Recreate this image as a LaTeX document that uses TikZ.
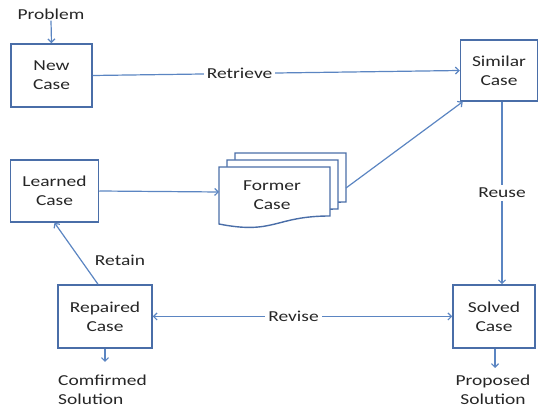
\documentclass[tikz,border=0pt]{standalone}
\usepackage{fontspec}
\setmainfont{Carlito}[FakeStretch=1.28]
\usetikzlibrary{arrows.meta}
\definecolor{lineblue}{HTML}{5B85C2}
\definecolor{boxblue}{HTML}{4A6EA8}
\definecolor{txt}{HTML}{262626}
\begin{document}
\begin{tikzpicture}[x=1pt,y=-1pt,
  every node/.style={text=txt, font=\fontsize{15.2}{19}\selectfont, align=center, inner sep=1pt},
  box/.style={draw=boxblue, line width=1.5pt, fill=white},
  conn/.style={draw=lineblue, line width=1.2pt, -{Straight Barb[length=3.5pt,width=7pt]}},
  lbl/.style={fill=white, inner sep=3pt},
  doc/.style={draw=boxblue, line width=1.4pt, fill=white}]
\useasboundingbox (0,0) rectangle (539,411);

% boxes
\node[box, minimum width=81pt, minimum height=63pt] (new) at (51.5,75.5) {New\\Case};
\node[box, minimum width=77pt, minimum height=61pt] (sim) at (499,70.5) {Similar\\Case};
\node[box, minimum width=88pt, minimum height=62pt] (learned) at (54.5,191) {Learned\\Case};
\node[box, minimum width=94pt, minimum height=63pt] (rep) at (105,316.5) {Repaired\\Case};
\node[box, minimum width=82pt, minimum height=63pt] (solved) at (494,316.5) {Solved\\Case};

% former case documents
\foreach \dx/\dy in {16/-14, 8/-7, 0/0}{
  \begin{scope}[shift={(\dx,\dy)}]
    \draw[doc] (219,167) -- (330,167) -- (330,216)
      .. controls (274.5,216) and (274.5,235) .. (219,224) -- cycle;
  \end{scope}
}
\node (former) at (272,195) {Former\\Case};
\coordinate (fl) at (219,192);
\coordinate (fr) at (346,188);

% texts
\node (problem) at (51,14) {Problem};
\node[align=left, anchor=west] (conf) at (57,390) {Comfirmed\\Solution};
\coordinate (confin) at (105,362);
\node (prop) at (493,390) {Proposed\\Solution};
\coordinate (propin) at (495,368);

% connectors
\draw[conn] (problem.south) -- (new.north);
\draw[conn] (new.east) -- node[lbl, pos=0.4] {Retrieve} (sim.west);
\draw[conn] (learned.east) -- (fl);
\draw[conn] (fr) -- ([xshift=3pt]sim.south west);
\draw[conn] ([xshift=3pt]sim.south) -- node[lbl] {Reuse} ([xshift=3pt]sim.south |- solved.north);
\draw[conn, {Straight Barb[length=3.5pt,width=7pt]}-{Straight Barb[length=3.5pt,width=7pt]}] (rep.east) -- node[lbl, pos=0.47] {Revise} (solved.west);
\draw[conn] ([xshift=-7pt]rep.north) -- (learned.south);
\node (retain) at (120,260) {Retain};
\draw[conn] (rep.south) -- (confin);
\draw[conn] ([xshift=1pt]solved.south) -- (propin);
\end{tikzpicture}
\end{document}
